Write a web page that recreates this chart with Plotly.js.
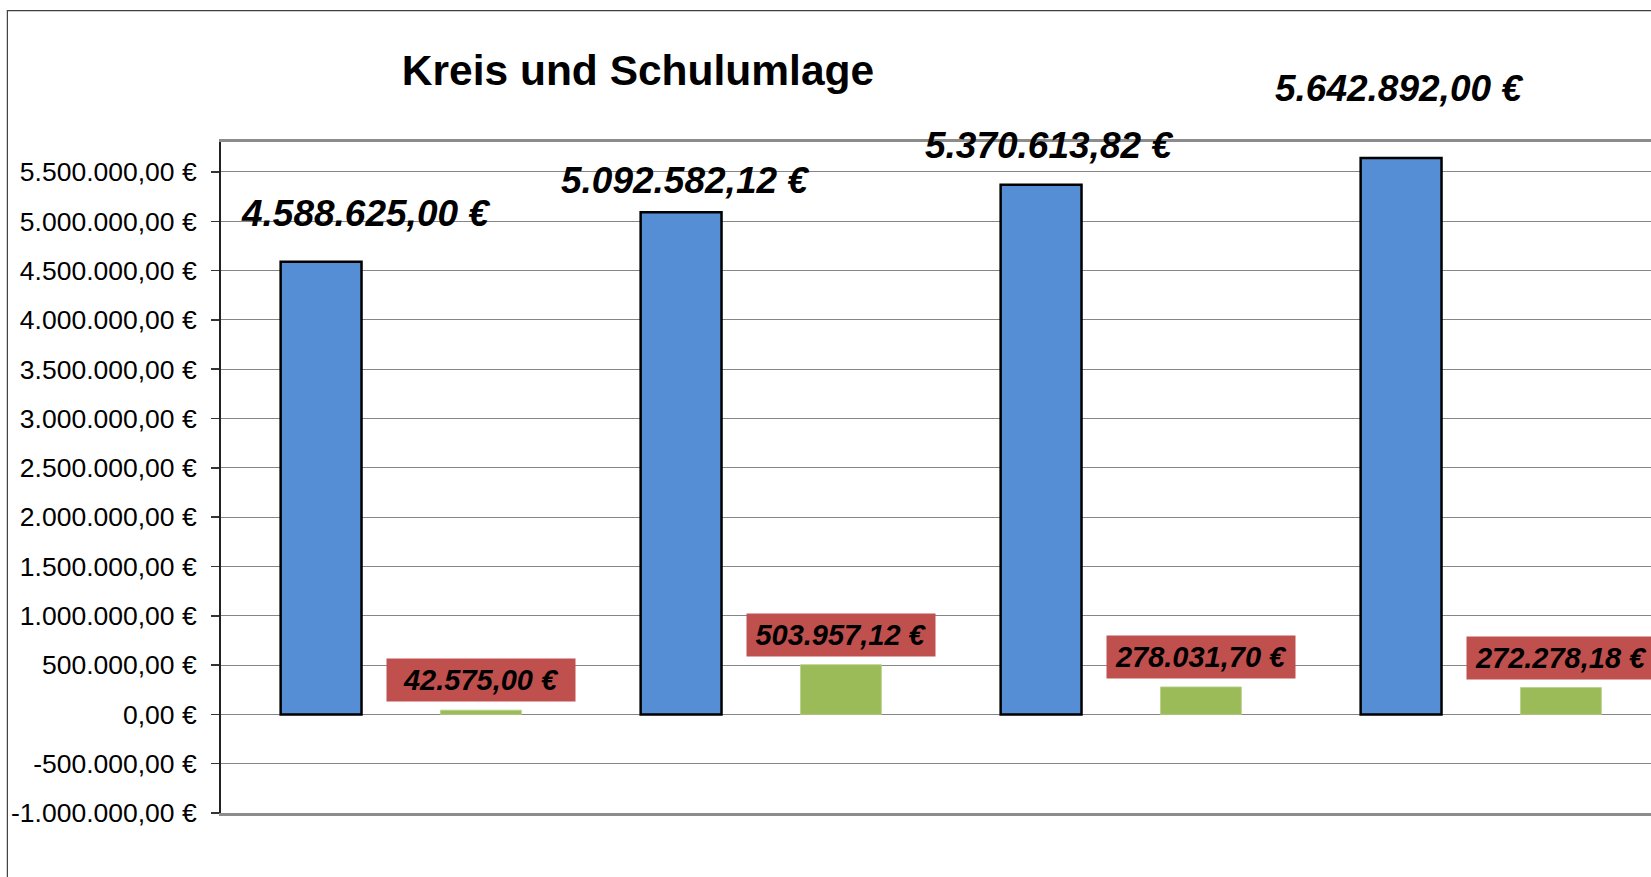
<!DOCTYPE html>
<html>
<head>
<meta charset="utf-8">
<script src="https://cdn.plot.ly/plotly-3.0.1.min.js"></script>
<style>
  html, body { margin: 0; padding: 0; background: #fff; overflow: hidden; }
  #chart { width: 1700px; height: 877px; }
</style>
</head>
<body>
<div id="chart"></div>
<script>
// ---- data ----
const categories = ["Jahr A", "Jahr B", "Jahr C", "Jahr D"];
const kreisumlage = [4588625.00, 5092582.12, 5370613.82, 5642892.00];
const schulumlage = [42575.00, 503957.12, 278031.70, 272278.18];
const tickValues = [-1000000, -500000, 0, 500000, 1000000, 1500000, 2000000, 2500000,
                    3000000, 3500000, 4000000, 4500000, 5000000, 5500000];
const chartTitle = "Kreis und Schulumlage";

// ---- formatting ----
function deEuro(v) {
  const neg = v < 0;
  const parts = Math.abs(v).toFixed(2).split(".");
  const intPart = parts[0].replace(/\B(?=(\d{3})+(?!\d))/g, ".");
  return (neg ? "-" : "") + intPart + "," + parts[1] + " €";
}
const tickTexts = tickValues.map(deEuro);

// ---- label placement (style) ----
const blueLabelDx = [44, 4, 8, -2];
const blueLabelDy = [48, 32, 39, 69];
const barShift = 80;

const FONT = "Liberation Sans, Arial, Helvetica, sans-serif";

const traces = [
  {
    type: "bar", x: categories, y: kreisumlage, name: "Kreisumlage",
    marker: { color: "#558ED5", line: { color: "#000000", width: 2.5 } },
    hoverinfo: "none"
  },
  {
    type: "bar", x: categories, y: schulumlage, name: "Schulumlage",
    marker: { color: "#9BBB59", line: { color: "#B5CF84", width: 0.8 } },
    hoverinfo: "none"
  }
];

const annotations = [];
categories.forEach((c, i) => {
  annotations.push({
    x: c, y: kreisumlage[i], xref: "x", yref: "y",
    text: "<b><i>" + deEuro(kreisumlage[i]) + "</i></b>",
    showarrow: false, xanchor: "center", yanchor: "middle",
    xshift: -barShift + blueLabelDx[i], yshift: blueLabelDy[i],
    font: { family: FONT, size: 37, color: "#000000" }
  });
  annotations.push({
    x: c, y: schulumlage[i], xref: "x", yref: "y",
    text: "<b><i>" + deEuro(schulumlage[i]) + "</i></b>",
    showarrow: false, xanchor: "center", yanchor: "bottom",
    xshift: barShift, yshift: 8,
    bgcolor: "#C0504D", borderpad: 0, width: 188, height: 42,
    font: { family: FONT, size: 29, color: "#000000" }
  });
});

const W = 1700, H = 877;
const mL = 221, mT = 142, mB = 64.4, mR = 38.5;
const plotW = W - mL - mR, plotH = H - mT - mB;

const layout = {
  width: W, height: H,
  margin: { l: mL, r: mR, t: mT, b: mB, pad: 0 },
  paper_bgcolor: "#ffffff", plot_bgcolor: "#ffffff",
  showlegend: false,
  separators: ",.",
  title: {
    text: "<b>" + chartTitle + "</b>",
    x: 638 / W, xref: "container", xanchor: "center",
    y: 1 - 70 / H, yref: "container", yanchor: "middle",
    font: { family: FONT, size: 42.5, color: "#000000" }
  },
  barmode: "group",
  bargap: 0.112,
  bargroupgap: 0.494,
  xaxis: {
    type: "category", range: [-0.5, 3.5],
    showticklabels: false, ticks: "", showgrid: false, zeroline: false,
    showline: true, mirror: true, linecolor: "#8C8C8C", linewidth: 3,
    fixedrange: true
  },
  yaxis: {
    range: [-1000000, 5804000],
    tickvals: tickValues, ticktext: tickTexts,
    ticks: "outside", ticklen: 8, tickwidth: 1.5, tickcolor: "#333333",
    ticklabelstandoff: 9,
    tickfont: { family: FONT, size: 26.5, color: "#000000" },
    showgrid: true, gridcolor: "#868686", gridwidth: 1,
    zeroline: true, zerolinecolor: "#868686", zerolinewidth: 1,
    showline: true, linecolor: "#222222", linewidth: 2,
    fixedrange: true
  },
  annotations: annotations,
  shapes: [
    {
      type: "rect", xref: "paper", yref: "paper",
      x0: (7.3 - mL) / plotW, x1: (W + 20 - mL) / plotW,
      y0: -(H + 20 - mT - plotH) / plotH, y1: (mT - 10.7) / plotH + 1,
      line: { color: "#404040", width: 1.2 }, fillcolor: "rgba(0,0,0,0)",
      layer: "below"
    }
  ]
};

Plotly.newPlot("chart", traces, layout, { displayModeBar: false, staticPlot: true });
</script>
</body>
</html>
